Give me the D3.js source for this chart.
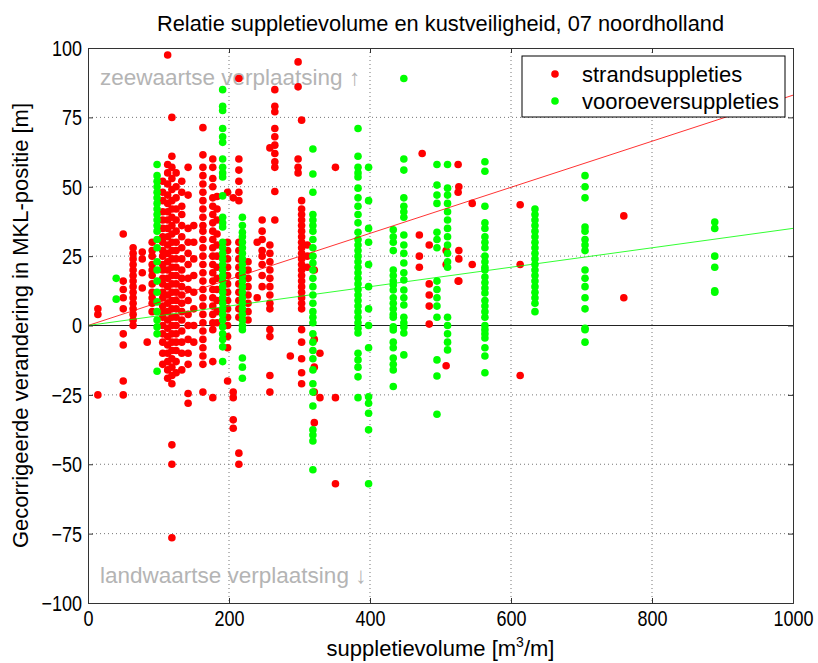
<!DOCTYPE html>
<html><head><meta charset="utf-8">
<script src="https://cdn.jsdelivr.net/npm/d3@7"></script>
<style>body{margin:0;background:#fff}svg{display:block}text{font-family:"Liberation Sans",Arial,sans-serif}</style>
</head><body><svg id="c" width="818" height="663"></svg>
<script>
// ---- data ----
const title = "Relatie suppletievolume en kustveiligheid, 07 noordholland";
const xTicks = [0, 200, 400, 600, 800, 1000];
const yTicks = [-100, -75, -50, -25, 0, 25, 50, 75, 100];
const seriesNames = ["strandsuppleties", "vooroeversuppleties"];

// strandsuppleties: volume per column and corrected MKL changes
const strandVolumes = [14, 50, 64, 77, 84, 91, 106, 113, 119, 125, 133, 142, 150, 163, 177, 183, 198, 206, 214, 227, 240, 247, 258, 265, 287, 298, 303, 311, 321, 329, 351, 470, 474, 484, 508, 525, 526, 545, 613, 760];
const strandChanges = [
  [6, 4, -25],
  [33, 16, 13, 10, 6, -3, -7, -20, -25],
  [28, 26, 24, 22, 20, 18, 16, 14, 12, 10, 8, 6, 4, 2, 0],
  [26.5, 24, 19, 13.5],
  [-6],
  [30, 27, 25, 22, 20, 18, 15, 12, 10, 8, 5],
  [52, 48, 45, 41, 38, 35, 32, 30, 27, 25, 22, 20, 17, 15, 12, 10, 7, 5, 3, 0, -3, -6, -10, -14],
  [97.5, 58, 55, 51, 47, 44, 41, 38, 35, 32, 29, 26, 23, 20, 17, 14, 11, 8, 5, 2, -1, -4, -7, -10, -13, -16, -19],
  [75, 61, 57, 53, 49, 45, 42, 39, 36, 33, 30, 27, 24, 21, 18, 15, 12, 9, 6, 3, 0, -3, -6, -9, -12, -15, -18, -21, -43, -50, -76.5],
  [55, 50, 46, 42, 38, 34, 30, 27, 24, 21, 18, 15, 12, 9, 6, 3, 0, -3, -6, -9, -13, -17],
  [52, 48, 43, 40, 36, 32, 28, 24, 20, 17, 14, 11, 8, 5, 2, -2, -6, -10, -16],
  [57, 47, 35, 30, 26, 22, 17, 13, 9, 4, 0, -5, -10, -14, -24.5, -28],
  [36, 30, 24, 18, 12, 6, 0, -6],
  [71.3, 61.5, 57, 54, 51, 48, 45, 42, 39, 36, 34, 31, 28, 25, 22, 19, 16, 13, 10, 7, 4, 1, -2, -5, -8, -11, -14, -24],
  [60, 57, 53, 50, 46, 43, 40, 37, 34, 31, 28, 25, 22, 19, 16, 13, 10, 7, 4, 1, -1.5, -13, -26],
  [46.5, 42, 38, 33, 29, 25, 21, 17, 13, 9, 5, 1],
  [48, 30, 27, 24, 21, 18, 15, 12, 9, 6, 3, 0, -4, -8, -20],
  [46, -24, -26, -34, -37],
  [89, 60, 56, 52, 48, 45, 30, 27, 24, 21, 18, 15, 12, 9, 6, 3, -46, -50],
  [23, 20, 17, 14, 11, 8, 5, 2],
  [30, 10],
  [38, 34, 31, 27, 25, 22, 18, 14],
  [64, 29, 26, 23, 20, 17, 14, 11, 8, 6, -1.5, -4, -18, -24],
  [85, 79, 77, 71, 68, 65, 62, 59, 57, 48.3, 38],
  [-11],
  [95, 86, 60, 57, 55],
  [74, 45, 42, 40, 38, 36, 34, 32, 30, 28, 26, 24, 22, 20, 18, 16, 14, 12, 10, 8, 6, -1.5, -6, -12, -17, -21],
  [29, 25, 21],
  [20, -5, -15, -24, -35],
  [-10, -26],
  [57, -26, -57],
  [32.6, 25, 21],
  [62],
  [29, 15, 11, 7, 0.5],
  [27, 22, -14.5],
  [58, 48, 16],
  [50, 27, 24, 16],
  [44, 22],
  [43.5, 22, -18],
  [39.5, 10]
];

// vooroeversuppleties
const vooroeverVolumes = [40, 98, 191, 219, 319, 383, 398, 433, 448, 495, 510, 563, 634, 705, 889];
const vooroeverChanges = [
  [17, 9.5],
  [58, 54, 52, 50, 48, 46, 44, 42, 40, 38, 36, 34, 31, 28, 23, 20, 16, 12, 8.5, 5, 2, -0.5, -3, -16.5],
  [85, 79, 77.5, 71, 68, 66, 60, 57, 55, 53.5, 46.7, 39, 37, 35.5, 30, 28, 26, 24, 22, 20, 18, 16, 14, 12, 10, 8, 6, 4, 2, -0.5, -3, -5, -7.7, -13],
  [39, 36, 33.6, 32, 30, 28, 26, 24, 22, 20, 18, 16, 14, 12, 10, 8, 6, 4, 2, 0, -1.5, -11.7, -15, -19],
  [63.6, 54.6, 48, 40, 38, 36, 34, 31, 28, 25, 22.5, 20, 17, 14, 11, 8, 5, 3, 1, -3, -6, -9, -12, -16, -21, -24, -29, -37.6, -39.5, -41.6, -52],
  [71, 61, 57, 55, 53.5, 49.5, 46, 43, 40, 37, 33.6, 31, 29, 27, 25, 23, 21, 19, 17, 15, 13, 11, 9, 7, 5, 3, 1, -1, -2.7, -10, -12.4, -15, -18.5, -26],
  [57, 45, 35, 30, 22, 14, 6, 0, -8, -25.7, -28, -31.6, -37.6, -57],
  [34.5, 32, 30, 27, 20, 18, 16, 14.6, 12.8, 10, 8, 6, 4, 3, -0.5, -1.6, -6, -8, -11.7, -14, -16, -22],
  [89, 60, 56, 46, 43, 41, 39, 32.6, 29, 26, 22.5, 19, 16.4, 12.8, 10, 7.4, 3, 1, -0.5, -2.7, -10.6],
  [58, 50.6, 47, 44, 33.6, 31, 28, 16, 13, 10, 7, 3, -12.4, -18.2, -32],
  [58, 49.5, 47, 44, 41, 38, 35, 32, 29, 26, 23, 21, 3, 0, -3, -6, -8.8],
  [59, 55.6, 43, 37, 35, 32, 30, 28, 25, 23, 21, 20, 17.5, 15.5, 13.5, 11.7, 9, 7, 5, 3, 0, -1.5, -3, -4.5, -8, -11, -17],
  [42, 40, 38, 36, 34, 32, 30, 28, 26, 24, 22, 20, 18, 16, 14, 12, 10, 8, 5],
  [54, 50, 46, 35.5, 34, 31, 29, 27, 20, 17, 14, 10, 6, -1, -1.5, -6],
  [37.3, 35, 25, 21, 12.5, 12]
];

// fitted trend (slope through origin): value at volume 1000
const trendEnd = [83, 35];

// ---- drawing ----
const W = 818, H = 663;
const m = {l: 88, r: 25, t: 48, b: 60};
const svg = d3.select("#c");
const x = d3.scaleLinear().domain([0, 1000]).range([m.l, W - m.r]);
const y = d3.scaleLinear().domain([-100, 100]).range([H - m.b, m.t]);
const colors = ["#ff0000", "#00ff00"];
const font = '"Liberation Sans",Arial,sans-serif';

svg.append("rect").attr("x", 0).attr("y", 0).attr("width", W).attr("height", H).attr("fill", "#fff");

// grid
const g = svg.append("g");
g.selectAll(".gx").data(xTicks.slice(1, -1)).join("line")
  .attr("x1", d => x(d)).attr("x2", d => x(d)).attr("y1", y(100)).attr("y2", y(-100))
  .attr("stroke", "#777").attr("stroke-dasharray", "1,3").attr("stroke-width", 1);
g.selectAll(".gy").data(yTicks.filter(d => d !== -100 && d !== 100 && d !== 0)).join("line")
  .attr("x1", x(0)).attr("x2", x(1000)).attr("y1", d => y(d)).attr("y2", d => y(d))
  .attr("stroke", "#777").attr("stroke-dasharray", "1,3").attr("stroke-width", 1);

// annotations
svg.append("text").attr("x", x(0) + 12).attr("y", 85).attr("font-size", 22.5).attr("fill", "#b4b4b4")
  .text("zeewaartse verplaatsing \u2191");
svg.append("text").attr("x", x(0) + 12).attr("y", 583).attr("font-size", 22.5).attr("fill", "#b4b4b4")
  .text("landwaartse verplaatsing \u2193");

// zero line
svg.append("line").attr("x1", x(0)).attr("x2", x(1000)).attr("y1", y(0)).attr("y2", y(0))
  .attr("stroke", "#222").attr("stroke-width", 1);

// points
function pts(vols, vals) {
  const out = [];
  vols.forEach((v, i) => vals[i].forEach(c => out.push([v, c])));
  return out;
}
const seriesPts = [pts(strandVolumes, strandChanges), pts(vooroeverVolumes, vooroeverChanges)];
seriesPts.forEach((p, k) => {
  svg.append("g").selectAll("circle").data(p).join("circle")
    .attr("cx", d => x(d[0])).attr("cy", d => y(d[1])).attr("r", 3.8).attr("fill", colors[k]);
});

// trend lines
trendEnd.forEach((e, k) => {
  svg.append("line").attr("x1", x(0)).attr("y1", y(0)).attr("x2", x(1000)).attr("y2", y(e))
    .attr("stroke", colors[k]).attr("stroke-width", 1).attr("opacity", 0.8);
});

// axes box with inward ticks
const axG = svg.append("g").attr("font-family", font);
const xb = axG.append("g").attr("transform", `translate(0,${y(-100)})`)
  .call(d3.axisBottom(x).tickValues(xTicks).tickSize(-5).tickPadding(7).tickFormat(d3.format("d")));
const xt = axG.append("g").attr("transform", `translate(0,${y(100)})`)
  .call(d3.axisTop(x).tickValues(xTicks).tickSize(-5).tickFormat(""));
const yl = axG.append("g").attr("transform", `translate(${x(0)},0)`)
  .call(d3.axisLeft(y).tickValues(yTicks).tickSize(-5).tickPadding(6).tickFormat(d3.format("d")));
const yr = axG.append("g").attr("transform", `translate(${x(1000)},0)`)
  .call(d3.axisRight(y).tickValues(yTicks).tickSize(-5).tickFormat(""));
[xb, xt, yl, yr].forEach(a => {
  a.select(".domain").attr("stroke", "#333").attr("stroke-width", 1);
  a.selectAll(".tick line").attr("stroke", "#333");
  a.selectAll("text").attr("font-size", 18).attr("fill", "#000").attr("font-family", font);
});
xb.selectAll("text").attr("transform", "scale(1,1.18)");
yl.selectAll("text").attr("dy", "0.35em").attr("transform", "scale(1,1.18)");

// title & labels
svg.append("text").attr("x", (x(0) + x(1000)) / 2).attr("y", 31).attr("text-anchor", "middle")
  .attr("font-size", 21.8).text(title);
const xl = svg.append("text").attr("x", (x(0) + x(1000)) / 2).attr("y", 656).attr("text-anchor", "middle")
  .attr("font-size", 22);
xl.append("tspan").text("suppletievolume [m");
xl.append("tspan").attr("dy", -9).attr("font-size", 14).text("3");
xl.append("tspan").attr("dy", 9).text("/m]");
svg.append("text").attr("transform", `translate(28,${(y(-100) + y(100)) / 2}) rotate(-90)`)
  .attr("text-anchor", "middle").attr("font-size", 22).text("Gecorrigeerde verandering in MKL-positie [m]");

// legend
const lg = svg.append("g");
lg.append("rect").attr("x", 522).attr("y", 56).attr("width", 263).attr("height", 61)
  .attr("fill", "#fff").attr("stroke", "#000").attr("stroke-width", 1);
seriesNames.forEach((n, k) => {
  lg.append("circle").attr("cx", 555).attr("cy", 74 + k * 27).attr("r", 3.8).attr("fill", colors[k]);
  lg.append("text").attr("x", 582).attr("y", 74 + k * 27).attr("dy", "0.35em").attr("font-size", 22).text(n);
});
</script></body></html>
